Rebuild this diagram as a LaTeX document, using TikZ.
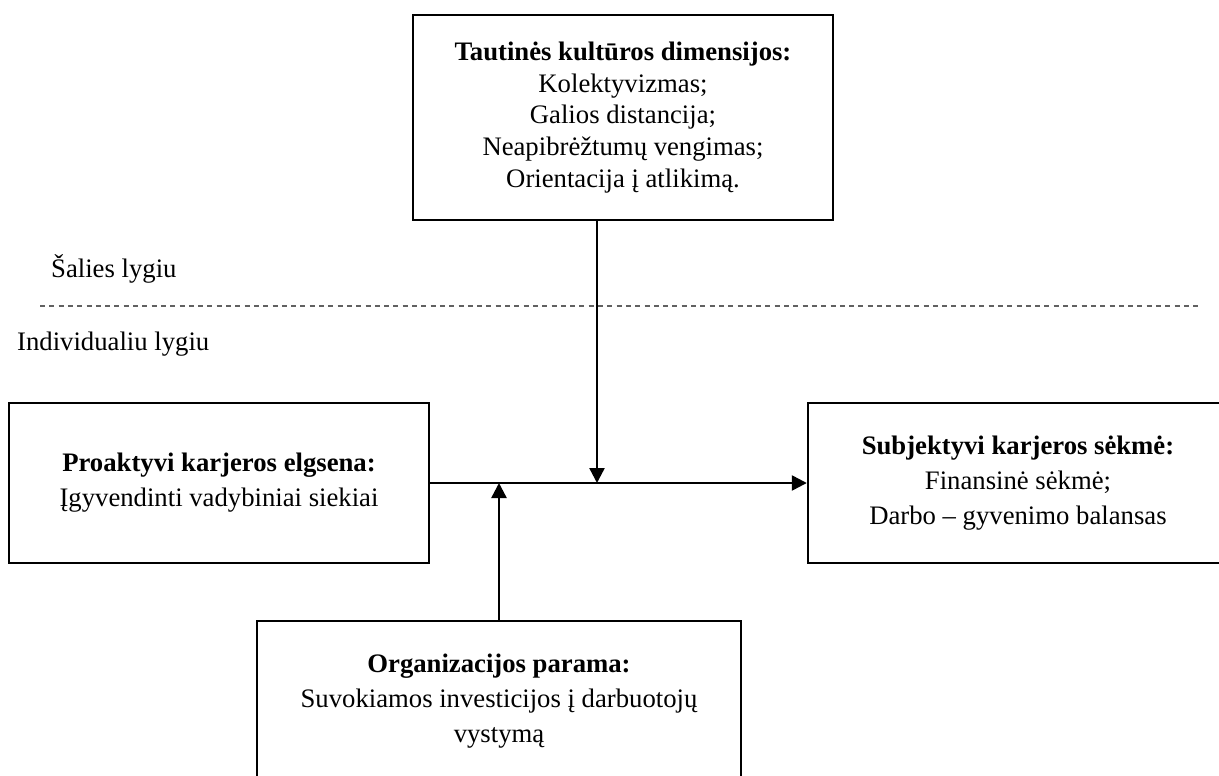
\documentclass[tikz,border=0pt]{standalone}
\usepackage{fontspec}
\setmainfont{Liberation Serif}
\usetikzlibrary{arrows.meta}
\begin{document}
\begin{tikzpicture}[x=1pt,y=-1pt,
  box/.style={draw, line width=2.4pt, minimum width=420pt, minimum height=160pt,
    align=center, inner sep=0pt, font=\fontsize{26.7}{35}\selectfont},
  arr/.style={line width=2.4pt, -{Triangle[length=15pt,width=15pt]}},
  dashline/.style={draw=black!62, line width=1.5pt, dash pattern=on 5pt off 4.3pt},
  lbl/.style={inner sep=0pt, anchor=base west, font=\fontsize{26.7}{32}\selectfont}]
  \clip (0,0) rectangle (1219,776);

  % level separator
  \coordinate (dl) at (40,306);
  \coordinate (dr) at (1200,306);
  \draw[dashline] (dl) -- (dr);
  \node[lbl] (country) at (51,277) {Šalies lygiu};
  \node[lbl] (indiv) at (17,350) {Individualiu lygiu};

  % boxes
  \node[box, minimum height=205pt, font=\fontsize{26.7}{31.6}\selectfont] (culture) at (623,117.5)
    {\textbf{Tautinės kultūros dimensijos:}\\Kolektyvizmas;\\Galios distancija;\\Neapibrėžtumų vengimas;\\Orientacija į atlikimą.};
  \node[box] (behav) at (219,483)
    {\textbf{Proaktyvi karjeros elgsena:}\\Įgyvendinti vadybiniai siekiai};
  \node[box] (success) at (1018,483)
    {\textbf{Subjektyvi karjeros sėkmė:}\\Finansinė sėkmė;\\Darbo – gyvenimo balansas};
  \node[box, minimum width=484pt] (support) at (499,701)
    {\textbf{Organizacijos parama:}\\Suvokiamos investicijos į darbuotojų\\vystymą};

  % connectors
  \coordinate (jd) at (597,483);
  \coordinate (ju) at (499,483);
  \draw[arr] (behav.east) -- (success.west);
  \draw[arr] (jd |- culture.south) -- (jd);
  \draw[arr] (support.north) -- (ju);
\end{tikzpicture}
\end{document}
